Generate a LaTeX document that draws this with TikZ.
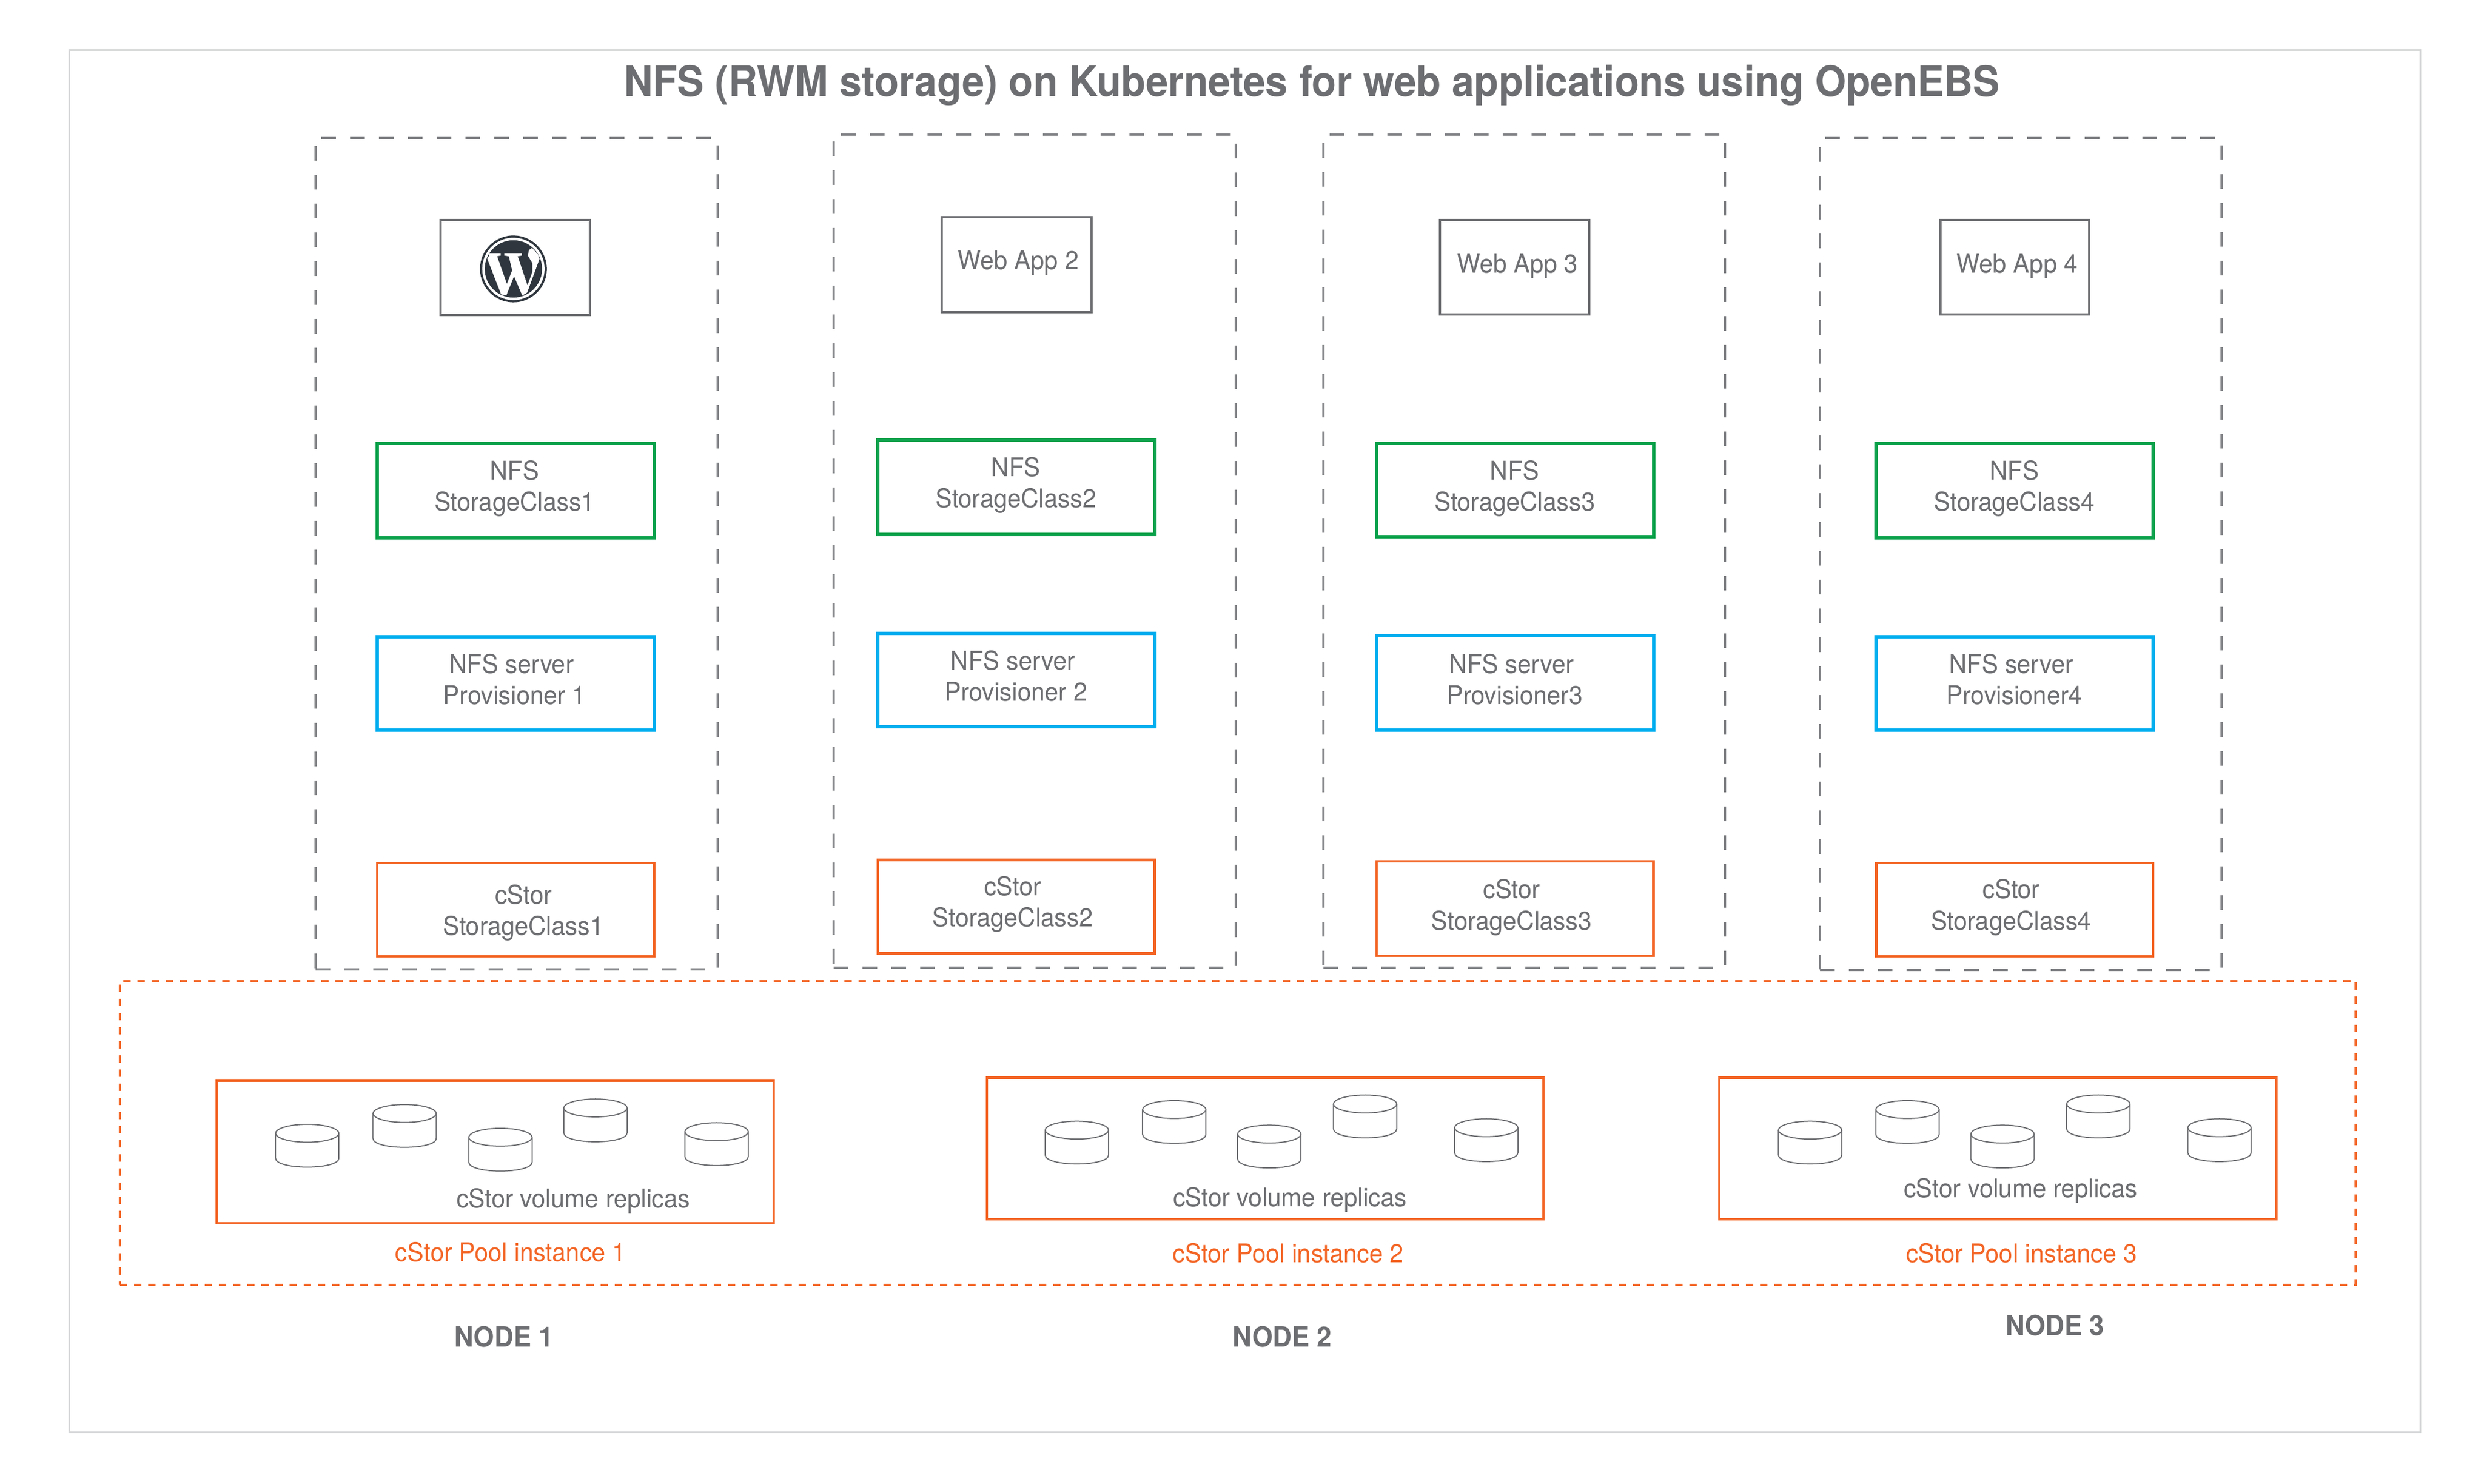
\documentclass[tikz,border=0pt]{standalone}
\usepackage{fontspec}
\setmainfont[FakeStretch=0.95]{TeX Gyre Heros}
\usetikzlibrary{fit}
\definecolor{tgray}{HTML}{6D6E71}
\definecolor{dgray}{HTML}{808285}
\definecolor{fgray}{HTML}{D4D5D6}
\definecolor{cgreen}{HTML}{0BA14B}
\definecolor{cblue}{HTML}{00AEEF}
\definecolor{corange}{HTML}{F36525}
\definecolor{wpdark}{HTML}{2F363D}
\tikzset{
  x=0.028cm, y=-0.028cm,
  boxbase/.style={inner sep=0pt, fill=none},
  framebox/.style={boxbase, draw=fgray, line width=0.3mm},
  columnbox/.style={boxbase, draw=dgray, line width=0.4mm, dash pattern=on 2.6mm off 2.5mm},
  poolarea/.style={boxbase, draw=corange, line width=0.4mm, dash pattern=on 1.3mm off 1.2mm},
  webbox/.style={boxbase, draw=tgray, line width=0.4mm},
  greenbox/.style={boxbase, draw=cgreen, line width=0.6mm},
  bluebox/.style={boxbase, draw=cblue, line width=0.6mm},
  orangebox/.style={boxbase, draw=corange, line width=0.45mm},
  txt/.style={text=tgray, font=\fontsize{13}{15.7}\selectfont, align=center, inner sep=0pt},
  orangetxt/.style={txt, text=corange},
  boldtxt/.style={text=tgray, font=\bfseries\fontsize{14}{16}\selectfont, inner sep=0pt},
  titletxt/.style={text=tgray, font=\bfseries\fontsize{21.22}{24}\selectfont, inner sep=0pt},
  disk/.style={draw=tgray, line width=0.2mm},
}
\newcommand{\bx}[6]{%
  \coordinate (#1-a) at (#3,#4);
  \coordinate (#1-b) at (#5,#6);
  \node[#2, fit=(#1-a)(#1-b)] (#1) {};
}
\newcommand{\disk}[2]{%
  \begin{scope}[shift={(#1,#2)}]
    \draw[disk] (20,5.65) ellipse [x radius=20, y radius=5.65];
    \draw[disk] (0,5.65) -- (0,21.35) .. controls (0,28.9) and (40,28.9) .. (40,21.35) -- (40,5.65);
  \end{scope}
}
\begin{document}
\begin{tikzpicture}
\useasboundingbox (0,0) rectangle (1568.57,936.79);
\bx{frame}{framebox}{43.6}{31.5}{1528.2}{904.5}
\node[titletxt] (title) at (828.5,54) {NFS (RWM storage) on Kubernetes for web applications using OpenEBS};

% columns
\bx{col1}{columnbox}{199.3}{87}{453.3}{612}
\bx{col2}{columnbox}{526.3}{85}{780.3}{611}
\bx{col3}{columnbox}{835.8}{85}{1089.3}{611}
\bx{col4}{columnbox}{1149.3}{87}{1402.8}{612.5}

% web apps
\bx{web1}{webbox}{278.3}{139}{372.6}{199}
\bx{web2}{webbox}{594.8}{137}{689.1}{197}
\bx{web3}{webbox}{909.3}{139}{1003.6}{198.5}
\bx{web4}{webbox}{1225.3}{139}{1319.3}{198.5}
\node[txt] (webt2) at (643,166) {Web App 2};
\node[txt] (webt3) at (958.3,168) {Web App 3};
\node[txt] (webt4) at (1273.8,168) {Web App 4};

% WordPress logo
\begin{scope}[shift={(324.2,169.8)}]
  \fill[wpdark] (0,0) circle [radius=21.1];
  \fill[white] (0,0) circle [radius=19.7];
  \fill[wpdark] (0,0) circle [radius=18.1];
  \fill[white] (-15.3,-9.7) -- (-8,-9.7) -- (-8,-8.4) -- (-10.3,-8) -- (-4.1,9.5) -- (-0.8,0.9)
    -- (-2.9,-8) -- (-5.8,-8.4) -- (-5.8,-9.7) -- (5.4,-9.7) -- (5.4,-8.4) -- (2.7,-8)
    -- (8.9,10.4) -- (12,1.8) -- (12,-3.6) -- (9.3,-8.2) -- (9.7,-11.8) -- (11.8,-13.3)
    -- (15.5,-9.1) -- (16.5,-6.4) -- (8.7,14.9) -- (5.6,16.8) -- (0.4,4.6) -- (-4.5,16.8)
    -- (-7.8,16) -- (-16.5,-6.4) -- (-15.3,-8.4) -- cycle;
\end{scope}

% NFS storage classes
\bx{nfs1}{greenbox}{238.3}{280}{413.1}{339.5}
\bx{nfs2}{greenbox}{554.3}{278}{729.1}{337.5}
\bx{nfs3}{greenbox}{869.3}{280}{1044.1}{339}
\bx{nfs4}{greenbox}{1184.8}{280}{1359.6}{339.5}
\node[txt] (nfst1) at (325,308.5) {NFS\\StorageClass1};
\node[txt] (nfst2) at (641.5,306.5) {NFS\\StorageClass2};
\node[txt] (nfst3) at (956.5,308.5) {NFS\\StorageClass3};
\node[txt] (nfst4) at (1272,308.5) {NFS\\StorageClass4};

% provisioners
\bx{prov1}{bluebox}{238.3}{402}{413.1}{461}
\bx{prov2}{bluebox}{554.3}{400}{729.1}{459}
\bx{prov3}{bluebox}{869.3}{401.5}{1044.1}{461}
\bx{prov4}{bluebox}{1184.8}{402}{1359.6}{461}
\node[txt] (provt1) at (325,429) {NFS server\hspace*{1.1mm}\\Provisioner 1};
\node[txt] (provt2) at (641.5,427) {NFS server\hspace*{1.1mm}\\Provisioner 2};
\node[txt] (provt3) at (956.5,429) {NFS server\hspace*{1.1mm}\\Provisioner3};
\node[txt] (provt4) at (1272,429) {NFS server\hspace*{1.1mm}\\Provisioner4};

% cStor storage classes
\bx{cst1}{orangebox}{238.3}{545}{413.1}{604}
\bx{cst2}{orangebox}{554.3}{543}{729.1}{602}
\bx{cst3}{orangebox}{869.3}{544}{1044.1}{603.5}
\bx{cst4}{orangebox}{1184.8}{545}{1359.6}{604}
\node[txt] (cstt1) at (330.5,576.5) {cStor\\StorageClass1};
\node[txt] (cstt2) at (639.5,571) {cStor\\StorageClass2};
\node[txt] (cstt3) at (954.5,573) {cStor\\StorageClass3};
\node[txt] (cstt4) at (1270,573) {cStor\\StorageClass4};

% pool area
\bx{pools}{poolarea}{75.7}{619.5}{1487.5}{811.5}
\bx{pool1}{orangebox}{136.7}{682.5}{488.5}{772.5}
\bx{pool2}{orangebox}{623.2}{680.5}{974.6}{770}
\bx{pool3}{orangebox}{1085.7}{680.5}{1437.5}{770}

\foreach \px/\py in {174/710, 235.5/697.5, 296/712.5, 356/694, 432.5/709,
                     660/708, 721.5/695, 781.5/710.5, 842/691.5, 918.5/706.5,
                     1123/708, 1184.5/695, 1244.5/710.5, 1305/691.5, 1381.5/706.5}
  {\disk{\px}{\py}}

\node[txt] (rep1) at (362,758.5) {cStor volume replicas};
\node[txt] (rep2) at (814.5,757.5) {cStor volume replicas};
\node[txt] (rep3) at (1276,752) {cStor volume replicas};
\node[orangetxt] (pt1) at (322.5,790.5) {cStor Pool instance 1};
\node[orangetxt] (pt2) at (813.5,791.5) {cStor Pool instance 2};
\node[orangetxt] (pt3) at (1276.5,791.5) {cStor Pool instance 3};
\node[boldtxt] (n1) at (318.2,844) {NODE 1};
\node[boldtxt] (n2) at (809.7,844) {NODE 2};
\node[boldtxt] (n3) at (1297.7,837) {NODE 3};
\end{tikzpicture}
\end{document}
